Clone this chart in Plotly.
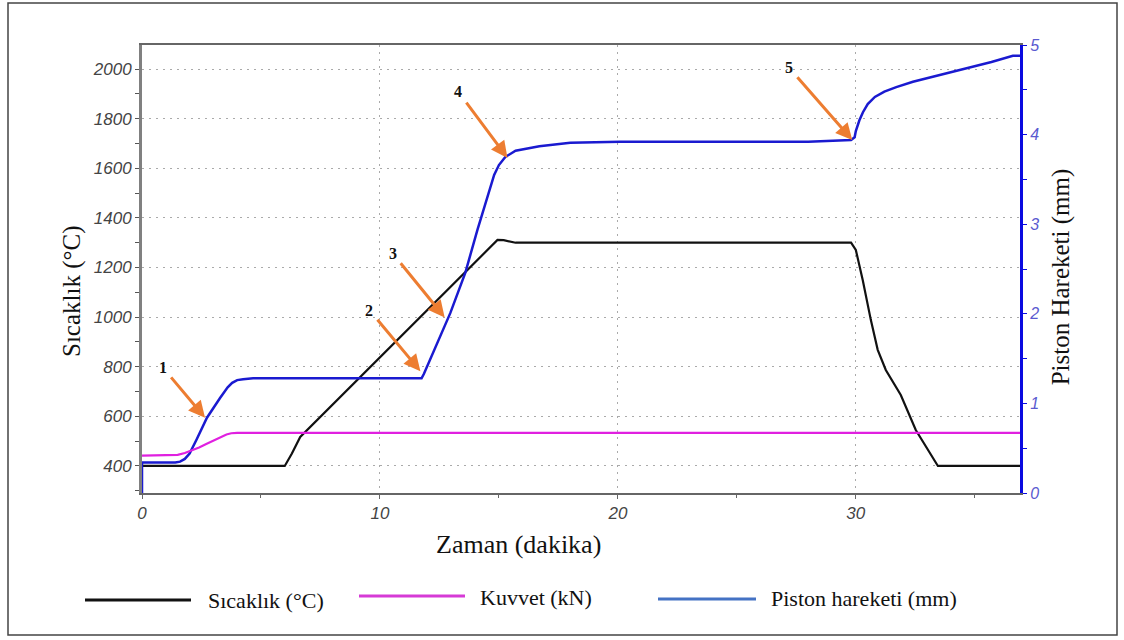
import plotly.graph_objects as go

# Time axis (minutes) and the three measured signals
t_temp = [0, 6.0, 6.3, 6.65, 14.94, 15.2, 15.7, 29.8, 30.0, 30.29, 30.63, 30.92,
          31.26, 31.89, 32.52, 33.15, 33.45, 36.9]
temp_c = [400, 400, 450, 517, 1311, 1310, 1300, 1300, 1271, 1150, 989, 868,
          787, 686, 545, 444, 400, 400]

t_force = [0, 1.2, 1.5, 1.8, 2.1, 2.4, 2.7, 3.0, 3.3, 3.55, 3.75, 4.0, 36.9]
force_kn = [2.5, 2.5, 2.55, 2.68, 2.85, 3.05, 3.28, 3.52, 3.75, 3.92, 4.0, 4.02, 4.02]

t_piston = [0, 0, 1.4, 1.6, 1.8, 2.0, 2.3, 2.73, 3.28, 3.6, 3.79, 4.0, 4.25, 4.67,
            11.75, 11.85, 12.96, 13.59, 14.1, 14.5, 14.8, 15.0, 15.27, 15.7, 16.7,
            18.0, 20.1, 28.0, 29.8, 29.95, 30.0, 30.15, 30.3, 30.5, 30.8, 31.2,
            31.7, 32.4, 33.15, 34.4, 35.7, 36.6, 36.9]
piston_mm = [0, 0.34, 0.34, 0.35, 0.38, 0.44, 0.6, 0.84, 1.06, 1.18, 1.23, 1.26, 1.27, 1.28,
             1.28, 1.33, 2.01, 2.46, 2.94, 3.3, 3.55, 3.66, 3.75, 3.82, 3.87,
             3.91, 3.92, 3.92, 3.94, 3.97, 4.04, 4.16, 4.25, 4.34, 4.42, 4.48,
             4.53, 4.59, 4.64, 4.72, 4.81, 4.88, 4.88]

# Numbered stage markers: label, time (min), piston position (mm), tail offset (px)
stage_labels = ["1", "2", "3", "4", "5"]
stage_t = [2.65, 11.7, 12.72, 15.36, 29.85]
stage_mm = [0.84, 1.36, 1.96, 3.74, 3.94]
stage_ax = [-42, -51, -52, -49, -63]
stage_ay = [-50, -61, -64, -66, -72]

x_ticks = [0, 10, 20, 30]
temp_ticks = [400, 600, 800, 1000, 1200, 1400, 1600, 1800, 2000]
mm_ticks = [0, 1, 2, 3, 4, 5]

legend_names = ["Sıcaklık (°C)", "Kuvvet (kN)", "Piston hareketi (mm)"]
legend_colors = ["#111111", "#d63ad6", "#4472c4"]

SERIF = "Liberation Serif, Times New Roman, serif"
SANS = "Liberation Sans, Arial, sans-serif"

fig = go.Figure()
fig.add_trace(go.Scatter(x=t_temp, y=temp_c, mode="lines", yaxis="y",
                         line=dict(color="#111111", width=2.2), showlegend=False))
fig.add_trace(go.Scatter(x=t_force, y=force_kn, mode="lines", yaxis="y3",
                         line=dict(color="#e020e0", width=2.2), showlegend=False))
fig.add_trace(go.Scatter(x=t_piston, y=piston_mm, mode="lines", yaxis="y2",
                         line=dict(color="#1a1ad0", width=2.5), showlegend=False))

tick_font = dict(family=SANS, size=17, color="#444444", style="italic")
GRID_DASH = "2px,5px"

fig.update_layout(
    width=1124, height=640,
    margin=dict(l=142, r=104, t=45, b=147),
    paper_bgcolor="white", plot_bgcolor="white",
    xaxis=dict(range=[0, 36.9], tickvals=x_ticks, showgrid=True,
               gridcolor="#aaaaaa", griddash=GRID_DASH, gridwidth=1,
               showline=True, linecolor="#666666", linewidth=2, mirror=True,
               ticks="outside", ticklen=4, tickcolor="#666666",
               minor=dict(dtick=5, ticks="outside", ticklen=3, tickcolor="#666666"),
               tickfont=tick_font, zeroline=False),
    yaxis=dict(range=[291, 2097], tickvals=temp_ticks, showgrid=True,
               gridcolor="#aaaaaa", griddash=GRID_DASH, gridwidth=1,
               showline=True, linecolor="#808080", linewidth=3,
               ticks="outside", ticklen=4, tickcolor="#555555",
               minor=dict(dtick=100, tick0=0, ticks="outside", ticklen=4, tickcolor="#555555"),
               tickfont=tick_font, zeroline=False),
    yaxis2=dict(range=[0, 5], tickvals=mm_ticks, overlaying="y", side="right",
                showgrid=False, showline=True, linecolor="#0a0ae0", linewidth=3,
                ticks="outside", ticklen=4, tickcolor="#0a0ae0",
                minor=dict(dtick=0.5, ticks="outside", ticklen=4, tickcolor="#0a0ae0"),
                tickfont=dict(family=SANS, size=16, color="#5a5ad0", style="italic"),
                zeroline=False),
    yaxis3=dict(range=[0, 30], overlaying="y", visible=False),
    showlegend=False,
)

annotations = []
for lab, tx, ym, ax, ay in zip(stage_labels, stage_t, stage_mm, stage_ax, stage_ay):
    annotations.append(dict(
        x=tx, y=ym, xref="x", yref="y2", text="<b>%s</b>" % lab,
        showarrow=True, arrowhead=2, arrowsize=1.1, arrowwidth=3,
        arrowcolor="#ed7d31", ax=ax, ay=ay, standoff=0, startstandoff=4,
        font=dict(family=SERIF, size=16, color="#111111")))

# Axis titles
annotations.append(dict(x=-0.0797, y=0.451, xref="paper", yref="paper",
                        xanchor="center", yanchor="middle",
                        text="Sıcaklık (°C)", textangle=-90, showarrow=False,
                        font=dict(family=SERIF, size=25, color="#111111")))
annotations.append(dict(x=1.047, y=0.482, xref="paper", yref="paper",
                        xanchor="center", yanchor="middle",
                        text="Piston Hareketi (mm)", textangle=-90, showarrow=False,
                        font=dict(family=SERIF, size=25, color="#111111")))
annotations.append(dict(x=0.429, y=-0.116, xref="paper", yref="paper",
                        xanchor="center", yanchor="middle",
                        text="Zaman (dakika)", showarrow=False,
                        font=dict(family=SERIF, size=26, color="#111111")))

# Legend drawn below the plot with long line keys
legend_line_x = [(85, 191), (359, 465), (658, 756)]
legend_line_y = [600, 596, 599]
legend_text_x = [206, 478, 769]
legend_text_y = [600, 597, 598]
W, H, L, T = 878.0, 448.0, 142.0, 493.0
shapes = []
for (x0, x1), ly, col in zip(legend_line_x, legend_line_y, legend_colors):
    shapes.append(dict(type="line", xref="paper", yref="paper",
                       x0=(x0 - L) / W, x1=(x1 - L) / W,
                       y0=(T - ly) / H, y1=(T - ly) / H,
                       line=dict(color=col, width=3)))
for name, tx, ty in zip(legend_names, legend_text_x, legend_text_y):
    annotations.append(dict(x=(tx - L) / W, y=(T - ty) / H, xref="paper", yref="paper",
                            text=name, showarrow=False, xanchor="left", yanchor="middle",
                            font=dict(family=SERIF, size=22, color="#111111")))

# Outer frame around the whole figure
shapes.append(dict(type="rect", xref="paper", yref="paper",
                   x0=(8 - L) / W, x1=(1117 - L) / W,
                   y0=(T - 635) / H, y1=(T - 3) / H,
                   line=dict(color="#444444", width=1.5)))

fig.update_layout(annotations=annotations, shapes=shapes)
fig.write_html("out.html")
